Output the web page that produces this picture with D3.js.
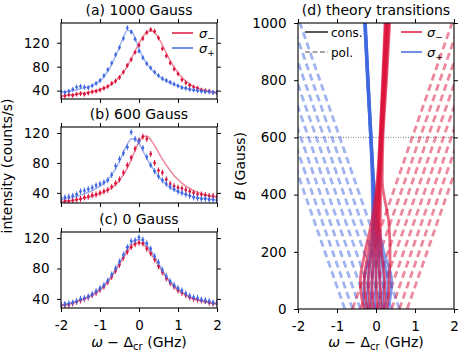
<!DOCTYPE html>
<html>
<head>
<meta charset="utf-8">
<script src="https://cdn.jsdelivr.net/npm/d3@7"></script>
<style>
body { margin: 0; background: #fff; }
text { font-family: "DejaVu Sans", sans-serif; fill: #000; }
</style>
</head>
<body>
<svg id="fig" width="463" height="360"></svg>
<script>
// frequency grid of the measured spectra (GHz)
var freq = [-2.0,-1.9,-1.8,-1.7,-1.6,-1.5,-1.4,-1.3,-1.2,-1.1,-1.0,-0.9,-0.8,-0.7,-0.6,-0.5,-0.4,-0.3,-0.2,-0.1,
            0.0,0.1,0.2,0.3,0.4,0.5,0.6,0.7,0.8,0.9,1.0,1.1,1.2,1.3,1.4,1.5,1.6,1.7,1.8,1.9,2.0];

// (a) 1000 Gauss
var redA     = [30,31,33,32,34,35,34,36,38,39, 41,44,47,52,56,62,71,82,92,104, 116,127,137,142,139,128,110,98,86,76, 68,58,53,49,46,44,41,40,39,37, 36];
var redFitA  = [31,32,32.5,33,34,35,36,37,38,40, 42,44,47,51,56,63,71,81,93,106, 119,130,138,140,137,128,116,103,90,79, 70,62,56,51,47,44,42,40,38.5,37.5, 36.5];
var blueA    = [38,37,39,42,46,47,46,45,48,52, 57,65,75,86,100,112,127,145,138,126, 106,95,85,78,71,65,60,57,54,51, 48,45,44,42,41,40,39,38,38,37, 37];
var blueFitA = [37,38,39,40,41.5,43,44.5,46,49,52, 56,63,72,84,98,113,129,141,140,127, 110,96,85,77,70,65,60,56,53,50, 48,46,44,42.5,41,40,39,38.5,38,37.5, 37];

// (b) 600 Gauss
var redB     = [28,29,29,30,31,32,34,35,37,38, 40,42,44,48,53,58,67,77,87,99, 110,115,112,92,80,70,67,58,52,49, 47,46,44,42,40,38,38,37,36,36, 35];
var redFitB  = [28,29,29.5,30,31,32,33,34,35.5,37, 39,41,44,47,51,57,64,73,84,97, 108,115,116,111,103,94,85,77,70,63, 58,53,49,46,43,41,39,37.5,36,35, 34];
var blueB    = [33,34,35,36,38,42,43,45,47,50, 52,54,57,64,76,85,93,101,121,112, 109,100,88,77,69,62,57,52,48,45, 42,40,38,36,34,33,32,32,31,31, 30];
var blueFitB = [31,32,33,34,35.5,37,39,41,43,46, 49,53,58,64,72,82,94,105,112,112, 106,96,86,77,69,62,56,51,47,44, 41.5,39.5,38,36.5,35,34,33,32.5,32,31, 30.5];

// (c) 0 Gauss
var redC     = [31,32,32,34,36,38,40,42,45,48, 52,56,62,69,77,85,94,102,108,112, 114,113,106,100,92,83,75,67,61,56, 51,48,45,42,40,39,38,37,35,34, 35];
var redFitC  = [31,32,33,34.5,36,38,40,42,45,48, 52,56,62,69,77,85,94,102,109,113, 114,112,107,100,92,84,75,68,61,56, 51,48,45,42,40,38.5,37,36,35,34, 33];
var blueC    = [32,33,34,35,37,40,41,43,46,50, 54,58,64,72,80,89,98,108,116,117, 121,118,113,106,96,88,78,70,63,58, 54,51,47,44,42,41,39,38,37,35, 34];
var blueFitC = [32,33,34,35.5,37,39,41,43,46,49, 53,58,64,71,79,88,97,106,113,117, 118,116,111,104,96,87,78,70,63,58, 53,49,46,43,41,39,38,36.5,35.5,34.5, 33.5];

var errBar = 4; // counts/s, half length of the error bars

var panelTitles = ["(a) 1000 Gauss", "(b) 600 Gauss", "(c) 0 Gauss"];
var intensityTicks = [40, 80, 120];
var freqTicks = [-2, -1, 0, 1, 2];
var fieldTicks = [0, 200, 400, 600, 800, 1000];

// (d) theory: field levels (Gauss) and transition frequencies (GHz) of the conserving lines
var fieldLevels = [0, 50, 100, 200, 300, 450, 600, 800, 1000];
var redCons = [
  [-0.30,-0.38,-0.40,-0.28,-0.12, 0.03, 0.10, 0.17, 0.23],
  [-0.22,-0.28,-0.30,-0.20,-0.07, 0.05, 0.11, 0.18, 0.25],
  [-0.14,-0.18,-0.20,-0.12,-0.02, 0.06, 0.12, 0.19, 0.26],
  [-0.06,-0.09,-0.10,-0.05, 0.02, 0.08, 0.13, 0.21, 0.28],
  [ 0.04, 0.02, 0.00, 0.01, 0.05, 0.09, 0.14, 0.22, 0.29],
  [ 0.12, 0.12, 0.10, 0.07, 0.08, 0.10, 0.15, 0.23, 0.31],
  [ 0.20, 0.22, 0.22, 0.14, 0.11, 0.12, 0.16, 0.25, 0.33],
  [ 0.28, 0.32, 0.34, 0.36, 0.33, 0.16, 0.18, 0.27, 0.35]
];
var blueCons = [
  [ 0.30, 0.38, 0.40, 0.20, 0.05,-0.06,-0.12,-0.20,-0.27],
  [ 0.22, 0.28, 0.30, 0.14, 0.03,-0.06,-0.12,-0.20,-0.27],
  [ 0.14, 0.18, 0.20, 0.09, 0.01,-0.07,-0.13,-0.20,-0.28],
  [ 0.06, 0.09, 0.10, 0.04,-0.01,-0.07,-0.13,-0.21,-0.28],
  [-0.04,-0.02, 0.00, 0.00,-0.03,-0.08,-0.13,-0.21,-0.28],
  [-0.12,-0.12,-0.10,-0.05,-0.05,-0.08,-0.14,-0.21,-0.29],
  [-0.20,-0.22,-0.20,-0.10,-0.07,-0.09,-0.14,-0.22,-0.29],
  [-0.28,-0.32,-0.30,-0.15,-0.09,-0.10,-0.14,-0.22,-0.29]
];
// polarised lines: frequency at 0 G and at 1000 G
var bluePolStart = [-0.8,-0.6,-0.4,-0.2, 0.0, 0.2, 0.4, 0.6];
var bluePolEnd   = [-3.35,-3.15,-2.95,-2.75,-2.55,-2.35,-2.15,-1.95];
var redPolStart  = [-0.6,-0.4,-0.2, 0.0, 0.2, 0.4, 0.6, 0.8];
var redPolEnd    = [1.95, 2.15, 2.35, 2.55, 2.75, 2.95, 3.15, 3.35];
var markField = 600;

var red = "#DC143C", blue = "#4169E1";
var tickFont = 13.5;

var svg = d3.select("#fig");

function addAxes(g, x, y, xTickVals, yTickVals, showX) {
  var y0 = y.range()[0], y1 = y.range()[1], x0 = x.range()[0], x1 = x.range()[1];
  var fmt = function(d) { return String(d); };
  var axes = [
    g.append("g").attr("transform", "translate(0," + y0 + ")")
      .call(d3.axisBottom(x).tickValues(xTickVals).tickSize(4).tickSizeOuter(0).tickPadding(8.5).tickFormat(showX ? fmt : "")),
    g.append("g").attr("transform", "translate(0," + y1 + ")")
      .call(d3.axisTop(x).tickValues(xTickVals).tickSize(4).tickSizeOuter(0).tickFormat("")),
    g.append("g").attr("transform", "translate(" + x0 + ",0)")
      .call(d3.axisLeft(y).tickValues(yTickVals).tickSize(4).tickSizeOuter(0).tickPadding(7.5).tickFormat(fmt)),
    g.append("g").attr("transform", "translate(" + x1 + ",0)")
      .call(d3.axisRight(y).tickValues(yTickVals).tickSize(4).tickSizeOuter(0).tickFormat(""))
  ];
  axes.forEach(function(a) {
    a.attr("font-family", "DejaVu Sans").attr("font-size", tickFont);
    a.select(".domain").remove();
    a.selectAll(".tick line").attr("stroke", "#000").attr("stroke-width", 1);
  });
  g.append("rect")
    .attr("x", x0).attr("y", y1).attr("width", x1 - x0).attr("height", y0 - y1)
    .attr("fill", "none").attr("stroke", "#000").attr("stroke-width", 1.1);
}

// ---------- left column: measured spectra ----------
var left = 61, right = 217, panelH = 76;
var panelTops = [23, 127, 232];
var titleY = [15, 119, 224];
var yDomains = [[26, 153], [26.5, 128], [28, 128]];
var spectra = [
  [{v: redA, fit: redFitA, c: red}, {v: blueA, fit: blueFitA, c: blue}],
  [{v: redB, fit: redFitB, c: red}, {v: blueB, fit: blueFitB, c: blue}],
  [{v: redC, fit: redFitC, c: red}, {v: blueC, fit: blueFitC, c: blue}]
];

var x = d3.scaleLinear().domain([-2, 2]).range([left, right]);

spectra.forEach(function(series, i) {
  var top = panelTops[i];
  var y = d3.scaleLinear().domain(yDomains[i]).range([top + panelH, top]);
  var g = svg.append("g");

  g.append("clipPath").attr("id", "clip" + i)
    .append("rect").attr("x", left).attr("y", top).attr("width", right - left).attr("height", panelH);
  var plot = g.append("g").attr("clip-path", "url(#clip" + i + ")");

  var line = d3.line()
    .x(function(d, j) { return x(freq[j]); })
    .y(function(d) { return y(d); })
    .curve(d3.curveMonotoneX);

  series.forEach(function(s) {
    plot.append("path").datum(s.fit)
      .attr("d", line)
      .attr("fill", "none").attr("stroke", s.c).attr("stroke-width", 1.5).attr("stroke-opacity", 0.5);
  });
  series.forEach(function(s) {
    var pts = plot.append("g");
    pts.selectAll("line").data(s.v).enter().append("line")
      .attr("x1", function(d, j) { return x(freq[j]); })
      .attr("x2", function(d, j) { return x(freq[j]); })
      .attr("y1", function(d) { return y(d - errBar); })
      .attr("y2", function(d) { return y(d + errBar); })
      .attr("stroke", s.c).attr("stroke-width", 1);
    pts.selectAll("circle").data(s.v).enter().append("circle")
      .attr("cx", function(d, j) { return x(freq[j]); })
      .attr("cy", function(d) { return y(d); })
      .attr("r", 1.4).attr("fill", s.c);
  });

  addAxes(g, x, y, freqTicks, intensityTicks, i === 2);

  g.append("text").attr("x", (left + right) / 2).attr("y", titleY[i])
    .attr("text-anchor", "middle").attr("font-size", 14).text(panelTitles[i]);
});

// legend in (a)
function sigmaLabel(g, tx, ty, sign, fs) {
  var t = g.append("text").attr("x", tx).attr("y", ty).attr("font-size", fs);
  t.append("tspan").attr("font-style", "italic").text("σ");
  t.append("tspan").attr("dy", 3).attr("font-size", fs * 0.7).text(sign);
}
[[red, "\u2212", 33], [blue, "+", 48]].forEach(function(l) {
  svg.append("line").attr("x1", 172).attr("x2", 193).attr("y1", l[2]).attr("y2", l[2])
    .attr("stroke", l[0]).attr("stroke-width", 1.5);
  sigmaLabel(svg, 199, l[2] + 4.5, l[1], 13);
});

function freqLabel(cx, cy) {
  var t = svg.append("text").attr("x", cx).attr("y", cy).attr("text-anchor", "middle").attr("font-size", 14);
  t.append("tspan").attr("font-style", "italic").text("ω");
  t.append("tspan").text(" \u2212 Δ");
  t.append("tspan").attr("dy", 3).attr("font-size", 10).text("cr");
  t.append("tspan").attr("dy", -3).text(" (GHz)");
}
freqLabel((left + right) / 2, 347);

svg.append("text").attr("transform", "translate(12," + 166 + ") rotate(-90)")
  .attr("text-anchor", "middle").attr("font-size", 14).text("intensity (counts/s)");

// ---------- right panel: theory transitions ----------
var dl = 298, dr = 454, dt = 23, db = 309;
var xd = d3.scaleLinear().domain([-2, 2]).range([dl, dr]);
var yd = d3.scaleLinear().domain([0, 1000]).range([db, dt]);
var gd = svg.append("g");
gd.append("clipPath").attr("id", "clipd")
  .append("rect").attr("x", dl).attr("y", dt).attr("width", dr - dl).attr("height", db - dt);
var pd = gd.append("g").attr("clip-path", "url(#clipd)");

pd.append("line").attr("x1", dl).attr("x2", dr).attr("y1", yd(markField)).attr("y2", yd(markField))
  .attr("stroke", "#777").attr("stroke-width", 1).attr("stroke-dasharray", "1,1.5");

function polLines(starts, ends, c) {
  starts.forEach(function(s, k) {
    pd.append("line")
      .attr("x1", xd(s)).attr("y1", yd(0))
      .attr("x2", xd(ends[k])).attr("y2", yd(1000))
      .attr("stroke", c).attr("stroke-width", 2.8).attr("stroke-opacity", 0.5)
      .attr("stroke-dasharray", "7,4");
  });
}
polLines(bluePolStart, bluePolEnd, blue);
polLines(redPolStart, redPolEnd, red);

var consLine = d3.line()
  .x(function(d) { return xd(d); })
  .y(function(d, j) { return yd(fieldLevels[j]); })
  .curve(d3.curveMonotoneY);
function consLines(set, c) {
  set.forEach(function(v) {
    pd.append("path").datum(v).attr("d", consLine)
      .attr("fill", "none").attr("stroke", c).attr("stroke-width", 2.8).attr("stroke-opacity", 0.65);
  });
}
consLines(blueCons, blue);
consLines(redCons, red);

addAxes(gd, xd, yd, freqTicks, fieldTicks, true);

gd.append("text").attr("x", (dl + dr) / 2).attr("y", 15)
  .attr("text-anchor", "middle").attr("font-size", 14).text("(d) theory transitions");

// legends in (d)
svg.append("line").attr("x1", 305).attr("x2", 328).attr("y1", 32).attr("y2", 32)
  .attr("stroke", "#222").attr("stroke-width", 1.5);
svg.append("text").attr("x", 331).attr("y", 36.5).attr("font-size", 12).text("cons.");
svg.append("line").attr("x1", 305).attr("x2", 328).attr("y1", 52).attr("y2", 52)
  .attr("stroke", "#888").attr("stroke-width", 1.5).attr("stroke-dasharray", "5,2.5");
svg.append("text").attr("x", 331).attr("y", 56.5).attr("font-size", 12).text("pol.");
[[red, "\u2212", 32], [blue, "+", 52]].forEach(function(l) {
  svg.append("line").attr("x1", 401).attr("x2", 422).attr("y1", l[2]).attr("y2", l[2])
    .attr("stroke", l[0]).attr("stroke-width", 1.5);
  sigmaLabel(svg, 427, l[2] + 4.5, l[1], 13);
});

freqLabel((dl + dr) / 2, 347);

var by = svg.append("text").attr("transform", "translate(245," + 166 + ") rotate(-90)")
  .attr("text-anchor", "middle").attr("font-size", 14);
by.append("tspan").attr("font-style", "italic").text("B");
by.append("tspan").text(" (Gauss)");
</script>
</body>
</html>
